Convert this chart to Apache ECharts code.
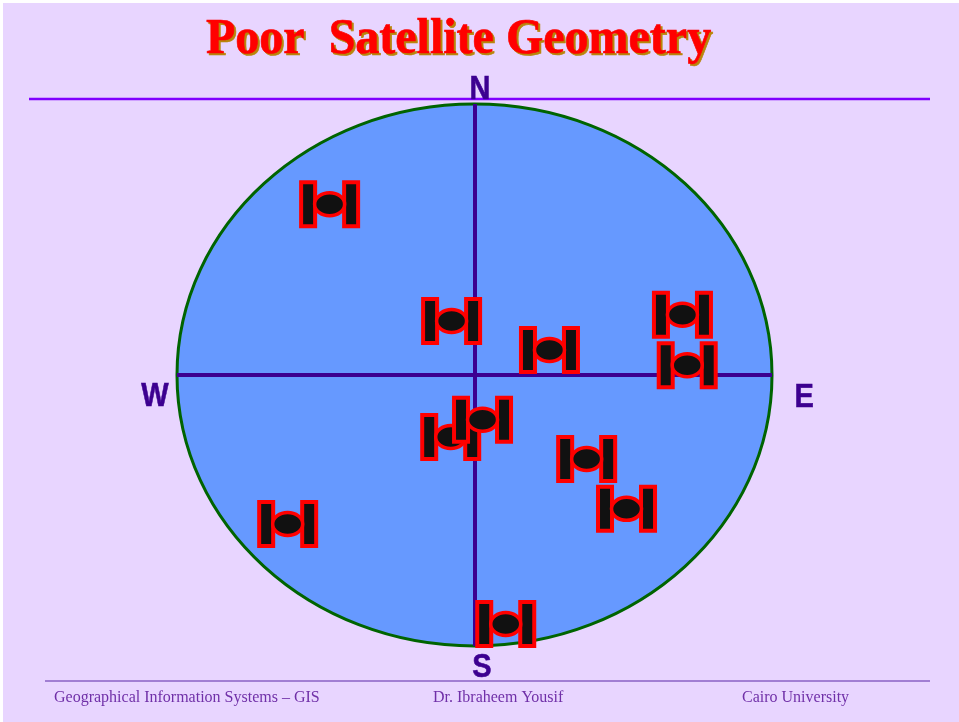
<!DOCTYPE html>
<html><head><meta charset="utf-8">
<style>html,body{margin:0;padding:0;background:#fff}#c{width:959px;height:722px}</style>
<script src="https://cdn.jsdelivr.net/npm/echarts@6/dist/echarts.min.js"></script></head>
<body><div id="c"></div>
<script>
const titleText = 'Poor  Satellite Geometry';
const footerTexts = ['Geographical Information Systems \u2013 GIS', 'Dr. Ibraheem Yousif', 'Cairo University'];
const compassLabels = ['N', 'S', 'W', 'E'];
const compassX = [1.8, 2.5, -107.4, 110.8];
const compassY = [105, -108, -8, -8.5];
const satX = [-48.7, -7.7, 25.2, 69.9, 71.5, -8.0, 2.7, 37.7, 51.1, -62.8, 10.5];
const satY = [63.0, 19.9, 9.2, 22.2, 3.6, -22.9, -16.5, -31, -49.4, -55, -91.9];

const chart = echarts.init(document.getElementById('c'), null, {renderer:'canvas'});
const bg = '#E8D5FF', ink = '#3C0090', red = '#FF0000', black = '#111111';
const footerStyle = t => ({text:t,font:'16px "Liberation Serif"',fill:'#7030A8',verticalAlign:'middle'});
const titleStyle = c => ({text:titleText,font:'bold 48px "Liberation Serif"',fill:c,stroke:c,lineWidth:0.6,verticalAlign:'middle'});
chart.setOption({
  animation:false,
  backgroundColor:'#fff',
  grid:{left:177,top:104,width:595,height:542},
  xAxis:{type:'value',min:-100,max:100,splitLine:{show:false},axisTick:{show:false},axisLabel:{show:false},z:3,
    axisLine:{show:true,onZero:true,lineStyle:{color:ink,width:4,cap:'butt'}}},
  yAxis:{type:'value',min:-100,max:100,splitLine:{show:false},axisTick:{show:false},axisLabel:{show:false},z:3,
    axisLine:{show:true,onZero:true,lineStyle:{color:ink,width:4,cap:'butt'}}},
  graphic:[
    {type:'rect',z:-1,shape:{x:3,y:3,width:956,height:719},style:{fill:bg}},
    {type:'line',z:0,shape:{x1:29,y1:99,x2:930,y2:99},style:{stroke:'#8000FF',lineWidth:2.5}},
    {type:'line',z:0,shape:{x1:45,y1:681,x2:930,y2:681},style:{stroke:'#8A60C4',lineWidth:1.5}},
    {type:'text',z:0,x:208,y:42,scaleY:1.04,style:titleStyle('#B8860B')},
    {type:'text',z:0,x:206,y:40,scaleY:1.04,style:titleStyle(red)},
    {type:'text',z:0,x:54,y:697.5,style:footerStyle(footerTexts[0])},
    {type:'text',z:0,x:433,y:697.5,style:footerStyle(footerTexts[1])},
    {type:'text',z:0,x:742,y:697.5,style:footerStyle(footerTexts[2])}
  ],
  series:[
    {type:'custom',z:1,clip:false,coordinateSystem:'cartesian2d',data:[[0,0]],silent:true,
     renderItem:(p,api)=>{const c=api.coord([0,0]);const s=api.size([100,100]);
       return {type:'ellipse',shape:{cx:c[0],cy:c[1],rx:s[0],ry:s[1]},style:{fill:'#6699FF',stroke:'#006400',lineWidth:3}};}},
    {type:'custom',z:5,clip:false,coordinateSystem:'cartesian2d',silent:true,
     data:compassLabels.map((t,i)=>[compassX[i],compassY[i]]),
     encode:{x:0,y:1},
     renderItem:(p,api)=>{const c=api.coord([api.value(0),api.value(1)]);
       return {type:'text',x:c[0],y:c[1],scaleY:1.13,style:{text:compassLabels[p.dataIndex],align:'center',verticalAlign:'middle',font:'bold 29px "Liberation Sans"',fill:ink,stroke:ink,lineWidth:0.5}};}},
    {type:'custom',z:4,clip:false,coordinateSystem:'cartesian2d',silent:true,
     data:satX.map((x,i)=>[x,satY[i]]),encode:{x:0,y:1},
     renderItem:(p,api)=>{const c=api.coord([api.value(0),api.value(1)]);
       const st={fill:black,stroke:red,lineWidth:4};
       return {type:'group',x:c[0],y:c[1],children:[
         {type:'rect',shape:{x:-28.5,y:-22,width:14,height:44},style:st},
         {type:'rect',shape:{x:14.5,y:-22,width:14,height:44},style:st},
         {type:'ellipse',shape:{cx:0,cy:0,rx:15,ry:11.5},style:Object.assign({},st,{lineWidth:3.5})}
       ]};}}
  ]
});
</script></body></html>
